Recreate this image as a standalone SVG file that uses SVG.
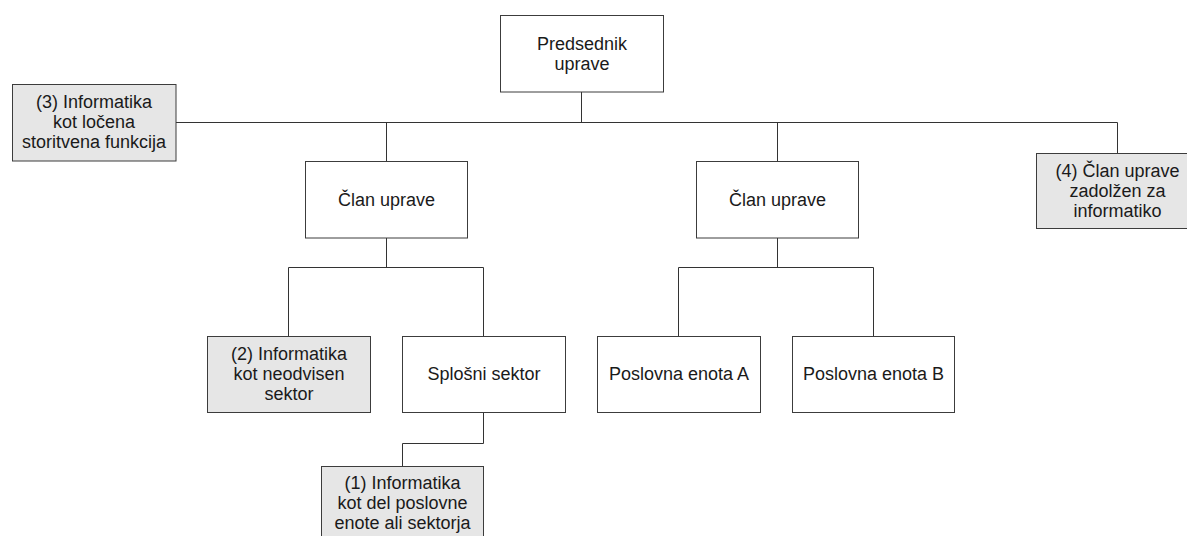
<svg xmlns="http://www.w3.org/2000/svg" width="1187" height="536" viewBox="0 0 1187 536">
  <style>
    .box { fill: #ffffff; stroke: #3c3c3c; stroke-width: 1; }
    .it { fill: #e6e6e6; }
    .lbl { font-family: "Liberation Sans", Arial, sans-serif; font-size: 18px; fill: #1a1a1a; text-anchor: middle; }
    .wire { fill: none; stroke: #333333; stroke-width: 1; }
  </style>
  <rect width="1187" height="536" fill="#ffffff"/>

  <!-- connectors -->
  <g id="connectors" class="wire">
    <path d="M581.5 92 V122.5"/>
    <path d="M176 122.5 H1117.5 V153"/>
    <path d="M386.5 122.5 V161"/>
    <path d="M777.5 122.5 V161"/>
    <path d="M386.5 238 V267.5"/>
    <path d="M288.5 336 V267.5 H483.5 V336"/>
    <path d="M777.5 238 V267.5"/>
    <path d="M678.5 336 V267.5 H873.5 V336"/>
    <path d="M483.5 413 V443.5 H402.5 V466"/>
  </g>

  <!-- top level -->
  <g id="predsednik">
    <rect class="box" x="500.5" y="15.5" width="163" height="76.5"/>
    <text class="lbl" x="582" y="50">Predsednik</text>
    <text class="lbl" x="582" y="70">uprave</text>
  </g>

  <g id="informatika-3">
    <rect class="box it" x="12.5" y="84.5" width="163.5" height="76.5"/>
    <text class="lbl" x="94" y="108">(3) Informatika</text>
    <text class="lbl" x="94" y="128">kot ločena</text>
    <text class="lbl" x="94" y="148">storitvena funkcija</text>
  </g>

  <g id="clan-1">
    <rect class="box" x="305.5" y="161.5" width="162" height="76.5"/>
    <text class="lbl" x="386.5" y="206">Član uprave</text>
  </g>

  <g id="clan-2">
    <rect class="box" x="696.5" y="161.5" width="162" height="76.5"/>
    <text class="lbl" x="777.5" y="206">Član uprave</text>
  </g>

  <g id="clan-4">
    <rect class="box it" x="1036.5" y="153.5" width="163" height="75"/>
    <text class="lbl" x="1117.5" y="177">(4) Član uprave</text>
    <text class="lbl" x="1117.5" y="197">zadolžen za</text>
    <text class="lbl" x="1117.5" y="217">informatiko</text>
  </g>

  <!-- second level -->
  <g id="informatika-2">
    <rect class="box it" x="207.5" y="336.5" width="163" height="76"/>
    <text class="lbl" x="289" y="360">(2) Informatika</text>
    <text class="lbl" x="289" y="380">kot neodvisen</text>
    <text class="lbl" x="289" y="400">sektor</text>
  </g>

  <g id="splosni-sektor">
    <rect class="box" x="402.5" y="336.5" width="163" height="76"/>
    <text class="lbl" x="484" y="380">Splošni sektor</text>
  </g>

  <g id="poslovna-enota-a">
    <rect class="box" x="597.5" y="336.5" width="163" height="76"/>
    <text class="lbl" x="679" y="380">Poslovna enota A</text>
  </g>

  <g id="poslovna-enota-b">
    <rect class="box" x="792.5" y="336.5" width="162" height="76"/>
    <text class="lbl" x="873.5" y="380">Poslovna enota B</text>
  </g>

  <!-- third level -->
  <g id="informatika-1">
    <rect class="box it" x="321.5" y="466.5" width="162" height="77"/>
    <text class="lbl" x="402.5" y="489">(1) Informatika</text>
    <text class="lbl" x="402.5" y="509">kot del poslovne</text>
    <text class="lbl" x="402.5" y="529">enote ali sektorja</text>
  </g>
</svg>
